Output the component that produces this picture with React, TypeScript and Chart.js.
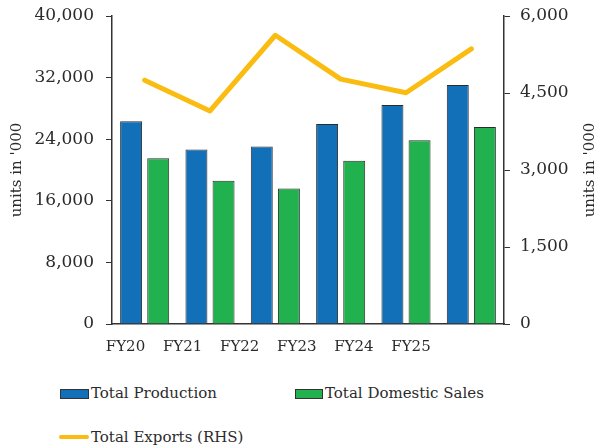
import React, { useEffect, useRef } from "react";
import { Chart, registerables } from "chart.js";

Chart.register(...registerables);

const categories = ["FY20", "FY21", "FY22", "FY23", "FY24", "FY25"];
const totalProduction = [26330, 22650, 23040, 25980, 28440, 31030];
const totalDomesticSales = [21540, 18600, 17600, 21190, 23870, 25590];
const totalExports = [4750, 4150, 5625, 4770, 4505, 5360];
const leftTicks = [0, 8000, 16000, 24000, 32000, 40000];
const rightTicks = [0, 1500, 3000, 4500, 6000];
const labelPositions = [0, 1, 2, 3, 4, 5];

const BLUE = "#1170b8";
const GREEN = "#21b14f";
const YELLOW = "#fbbc12";
const FONT = "'DejaVu Serif', serif";
const TEXT = "#2b2b2b";
const AXIS_TITLE = "units in '000";

if (typeof document !== "undefined") {
  document.body.style.margin = "0";
}

const rightTitlePlugin = {
  id: "rightTitle",
  afterDraw(chart: any) {
    const { ctx, chartArea } = chart;
    ctx.save();
    ctx.translate(590, (chartArea.top + chartArea.bottom) / 2);
    ctx.rotate(-Math.PI / 2);
    ctx.font = `15px ${FONT}`;
    ctx.fillStyle = TEXT;
    ctx.textAlign = "center";
    ctx.textBaseline = "middle";
    ctx.fillText(AXIS_TITLE, 0, 0);
    ctx.restore();
  },
};

export default function App() {
  const ref = useRef<HTMLCanvasElement | null>(null);

  useEffect(() => {
    if (!ref.current) return;
    const fmt = (v: number) => v.toLocaleString("en-US");
    const chart = new Chart(ref.current, {
      data: {
        labels: categories,
        datasets: [
          {
            type: "line",
            label: "Total Exports (RHS)",
            data: totalExports,
            yAxisID: "y1",
            borderColor: YELLOW,
            backgroundColor: YELLOW,
            borderWidth: 5,
            pointRadius: 0,
            tension: 0,
            borderCapStyle: "round",
            borderJoinStyle: "round",
            order: 0,
          },
          {
            type: "bar",
            label: "Total Production",
            data: totalProduction,
            yAxisID: "y",
            backgroundColor: BLUE,
            borderColor: "#2b2b2b",
            borderWidth: 1,
            categoryPercentage: 0.83,
            barPercentage: 0.81,
            order: 1,
          },
          {
            type: "bar",
            label: "Total Domestic Sales",
            data: totalDomesticSales,
            yAxisID: "y",
            backgroundColor: GREEN,
            borderColor: "#2b2b2b",
            borderWidth: 1,
            categoryPercentage: 0.83,
            barPercentage: 0.81,
            order: 1,
          },
        ],
      },
      options: {
        responsive: false,
        animation: false,
        maintainAspectRatio: false,
        layout: { padding: { top: 16, left: 0, right: 0, bottom: 0 } },
        plugins: {
          legend: { display: false },
          tooltip: { enabled: false },
        },
        scales: {
          x: {
            position: "bottom",
            grid: { display: false, drawTicks: false },
            border: { display: true, color: "#333333", width: 1.5 },
            ticks: { display: false },
            afterFit: (s: any) => {
              s.height = 0;
            },
          },
          xl: {
            type: "linear",
            position: "bottom",
            min: -0.236,
            max: 6.629,
            afterBuildTicks: (s: any) => {
              s.ticks = labelPositions.map((v) => ({ value: v }));
            },
            grid: { display: false, drawTicks: false },
            border: { display: false },
            ticks: {
              color: TEXT,
              font: { family: FONT, size: 15 },
              padding: 14,
              maxRotation: 0,
              autoSkip: false,
              callback: (v: any) => categories[Math.round(Number(v))] ?? "",
            },
            afterFit: (s: any) => {
              s.height = 360 - 324;
              s.paddingLeft = 0;
              s.paddingRight = 0;
            },
          },
          y: {
            position: "left",
            min: 0,
            max: 40000,
            afterBuildTicks: (s: any) => {
              s.ticks = leftTicks.map((v) => ({ value: v }));
            },
            grid: { display: true, drawOnChartArea: false, drawTicks: true, tickLength: 6, color: "#333333" },
            border: { display: true, color: "#333333", width: 1.5 },
            ticks: { color: TEXT, font: { family: FONT, size: 17 }, padding: 12, callback: (v: any) => fmt(Number(v)) },
            title: { display: true, text: AXIS_TITLE, color: TEXT, font: { family: FONT, size: 15 }, padding: { top: 8, bottom: 0 } },
            afterFit: (s: any) => {
              s.width = 112;
              s.paddingTop = 8;
              s.paddingBottom = 8;
            },
          },
          y1: {
            position: "right",
            min: 0,
            max: 6000,
            afterBuildTicks: (s: any) => {
              s.ticks = rightTicks.map((v) => ({ value: v }));
            },
            grid: { display: true, drawOnChartArea: false, drawTicks: true, tickLength: 6, color: "#333333" },
            border: { display: true, color: "#333333", width: 1.5 },
            ticks: { color: TEXT, font: { family: FONT, size: 17 }, padding: 10, callback: (v: any) => fmt(Number(v)) },
            afterFit: (s: any) => {
              s.width = 96;
              s.paddingTop = 8;
              s.paddingBottom = 8;
            },
          },
        },
      },
      plugins: [rightTitlePlugin],
    } as any);
    return () => chart.destroy();
  }, []);

  const legendText: React.CSSProperties = {
    position: "absolute",
    fontFamily: FONT,
    fontSize: 15,
    color: TEXT,
    lineHeight: "20px",
    whiteSpace: "nowrap",
  };

  return (
    <div style={{ position: "relative", width: 600, height: 447, overflow: "hidden" }}>
      <canvas ref={ref} width={600} height={360} style={{ display: "block", width: 600, height: 360 }} />
      <div style={{ position: "absolute", left: 60, top: 389, width: 27, height: 8, background: BLUE, border: "1px solid #333" }} />
      <div style={{ ...legendText, left: 91, top: 383 }}>Total Production</div>
      <div style={{ position: "absolute", left: 295, top: 389, width: 26, height: 8, background: GREEN, border: "1px solid #333" }} />
      <div style={{ ...legendText, left: 325, top: 383 }}>Total Domestic Sales</div>
      <div style={{ position: "absolute", left: 59, top: 435, width: 30, height: 4, background: YELLOW, borderRadius: 2 }} />
      <div style={{ ...legendText, left: 91, top: 427 }}>Total Exports (RHS)</div>
    </div>
  );
}
